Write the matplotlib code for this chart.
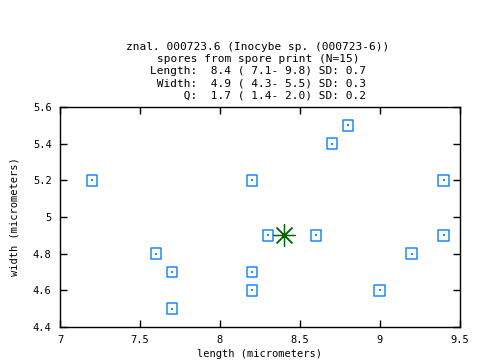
import matplotlib
matplotlib.use('Agg')
import matplotlib.pyplot as plt

length = [7.2, 7.6, 7.7, 7.7, 8.2, 8.2, 8.2, 8.3, 8.6, 8.7, 8.8, 9.0, 9.2, 9.4, 9.4]
width = [5.2, 4.8, 4.7, 4.5, 5.2, 4.7, 4.6, 4.9, 4.9, 5.4, 5.5, 4.6, 4.8, 5.2, 4.9]
mean_length = 8.4
mean_width = 4.9

title_lines = [
    'znal. 000723.6 (Inocybe sp. (000723-6))',
    'spores from spore print (N=15)',
    'Length:  8.4 ( 7.1- 9.8) SD: 0.7',
    ' Width:  4.9 ( 4.3- 5.5) SD: 0.3',
    '     Q:  1.7 ( 1.4- 2.0) SD: 0.2',
]
xticks = [7, 7.5, 8, 8.5, 9, 9.5]
yticks = [4.4, 4.6, 4.8, 5, 5.2, 5.4, 5.6]

plt.rcParams['font.family'] = 'DejaVu Sans Mono'
plt.rcParams['font.size'] = 7.5

fig = plt.figure(figsize=(4.8, 3.6), dpi=100)
ax = fig.add_axes([0.125, 0.092, 0.833, 0.611])

blue = '#1e88ff'
ax.scatter(length, width, marker='s', s=60, facecolors='none', edgecolors=blue, linewidths=1.1, zorder=3)
ax.scatter(length, width, marker='s', s=1.2, color=blue, linewidths=0, zorder=3)
ax.plot([mean_length], [mean_width], marker=(8, 2, 0), markersize=16, color='#006400', mew=0.9, zorder=4)
ax.plot([mean_length], [mean_width], marker='o', markersize=3, color='#006400', zorder=4)

ax.set_xlim(7, 9.5)
ax.set_ylim(4.4, 5.6)
ax.set_xticks(xticks)
ax.set_xticklabels(['7', '7.5', '8', '8.5', '9', '9.5'])
ax.set_yticks(yticks)
ax.set_yticklabels(['4.4', '4.6', '4.8', '5', '5.2', '5.4', '5.6'])
ax.tick_params(direction='in', top=True, right=True, length=5, width=1, pad=6)
for s in ax.spines.values():
    s.set_linewidth(1.0)

ax.set_xlabel('length (micrometers)', labelpad=3)
ax.set_ylabel('width (micrometers)', labelpad=10)

fig.text(258 / 480, 1 - 42 / 360, '\n'.join(title_lines), ha='center', va='top',
         fontsize=8, linespacing=1.25, multialignment='center')

fig.savefig('out.png', dpi=100)
